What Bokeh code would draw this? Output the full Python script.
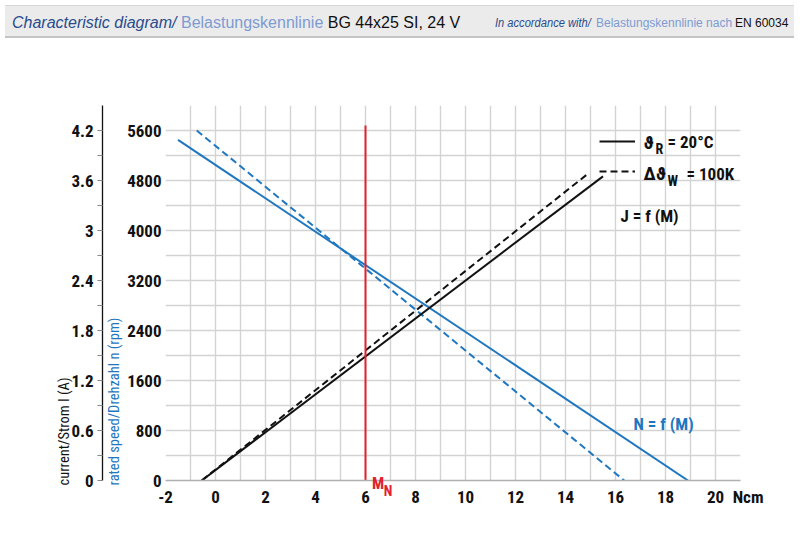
from bokeh.plotting import figure
from bokeh.models import (Range1d, LinearAxis, FixedTicker, CustomJSTickFormatter,
                          Label, Div, Legend, LegendItem, Title)
from bokeh.layouts import column
from bokeh.embed import file_html
from bokeh.resources import INLINE

# ---------------- data ----------------
torque_speed_cold = [-1.5, 18.9]      # Ncm
speed_cold = [5450, 0]                # rpm, theta_R = 20 C
torque_speed_hot = [-0.75, 16.35]
speed_hot = [5600, 0]                 # rpm, delta theta_W = 100 K
torque_current_cold = [-0.55, 15.5]
current_cold = [0, 3.65]              # A
torque_current_hot = [-0.55, 14.85]
current_hot = [0, 3.67]               # A
rated_torque = [6, 6]                 # M_N
rated_marker_span = [0, 5680]

x_ticks = [-2, 0, 2, 4, 6, 8, 10, 12, 14, 16, 18, 20, 21]
x_grid = [-2, -1, 0, 1, 2, 3, 4, 5, 6, 7, 8, 9, 10, 11, 12, 13, 14, 15, 16, 17, 18, 19, 20]
speed_ticks = [0, 800, 1600, 2400, 3200, 4000, 4800, 5600]
speed_grid = [400, 800, 1200, 1600, 2000, 2400, 2800, 3200, 3600, 4000, 4400, 4800, 5200, 5600, 6000]
current_ticks = [0, 0.6, 1.2, 1.8, 2.4, 3, 3.6, 4.2]
current_minor = [0.3, 0.9, 1.5, 2.1, 2.7, 3.3, 3.9]
mn_pos_m = [6.5]
mn_pos_n = [6.9]

# ---------------- styles ----------------
FONT = "Roboto Condensed"
BLUE = "#1f77c0"
RED = "#e3202b"
BLACK = "#111111"
GRID = "#d3d3d3"

W = 789
HEAD_H = 33
H = 530 - HEAD_H

header_html = (
    '<div style="position:relative;width:789px;height:33px;background:#ebebeb;'
    'border-top:1px solid #d6d6d6;border-bottom:2px solid #c4c4c4;box-sizing:border-box;'
    'overflow:hidden;white-space:nowrap;font-family:Liberation Sans, Arial, sans-serif;">'
    '<span style="position:absolute;left:7px;top:6px;font-size:16px;">'
    '<i style="color:#2a4b8d">Characteristic diagram/</i> '
    '<span style="color:#7d9bd2">Belastungskennlinie</span> '
    '<span style="color:#111">BG 44x25 SI, 24 V</span></span>'
    '<span style="position:absolute;left:490px;top:9px;font-size:12.5px;color:#2a4b8d;'
    'font-style:italic;transform:scaleX(0.89);transform-origin:left center;">'
    'In accordance with/</span>'
    '<span style="position:absolute;left:591px;top:9px;font-size:12.5px;color:#7d9bd2;'
    'transform:scaleX(0.96);transform-origin:left center;">'
    'Belastungskennlinie nach</span>'
    '<span style="position:absolute;left:730px;top:9px;font-size:12.5px;color:#111;'
    'transform:scaleX(0.96);transform-origin:left center;">'
    'EN 60034</span>'
    '</div>'
)
header = Div(text=header_html, width=W, height=HEAD_H)

p = figure(width=W, height=H, output_backend="svg", toolbar_location=None,
           x_range=Range1d(-2, 21), y_range=Range1d(0, 6000),
           min_border_left=165, min_border_right=49, min_border_top=62, min_border_bottom=60)
p.extra_y_ranges = {"current": Range1d(0, 4.5)}
p.outline_line_color = None
p.background_fill_color = "white"
p.border_fill_color = "white"

# grids
p.xgrid.ticker = FixedTicker(ticks=x_grid)
p.ygrid.ticker = FixedTicker(ticks=speed_grid)
for g in (p.xgrid, p.ygrid):
    g.grid_line_color = GRID
    g.grid_line_width = 1.4


def style_axis(ax, size):
    ax.major_tick_in = 0
    ax.minor_tick_in = 0
    ax.major_label_text_font = FONT
    ax.major_label_text_font_size = size
    ax.major_label_text_font_style = "bold"
    ax.major_label_text_color = BLACK


# x axis
xa = p.xaxis[0]
xa.ticker = FixedTicker(ticks=x_ticks)
xa.formatter = CustomJSTickFormatter(
    code="return tick > 20.5 ? '\u2002\u2002Ncm' : String(tick)")
xa.axis_line_color = "#b0b0b0"
xa.axis_line_width = 1.5
xa.major_tick_out = 0
xa.minor_tick_out = 0
xa.major_label_standoff = 6
style_axis(xa, "17px")

# M_N marker labels (red) on extra, tick-only axes
for pos, txt, size, so in ((mn_pos_m, "M", "16px", -36), (mn_pos_n, "N", "14px", -27)):
    ax = LinearAxis(ticker=FixedTicker(ticks=pos),
                    formatter=CustomJSTickFormatter(code="return '%s'" % txt))
    ax.axis_line_color = None
    ax.major_tick_out = 0
    ax.minor_tick_out = 0
    ax.major_label_standoff = so
    style_axis(ax, size)
    ax.major_label_text_color = RED
    p.add_layout(ax, "below")

# speed axis (inner left)
ya = p.yaxis[0]
ya.ticker = FixedTicker(ticks=speed_ticks)
ya.axis_line_color = None
ya.major_tick_out = 0
ya.minor_tick_out = 0
ya.major_label_standoff = 4
style_axis(ya, "17px")

blue_title = Title(text="rated speed/Drehzahl n (rpm)", align="left", vertical_align="bottom",
                   offset=-5, standoff=3, text_font=FONT, text_font_size="14.5px",
                   text_font_style="normal", text_color=BLUE)
p.add_layout(blue_title, "left")

# current axis (outer left)
ca = LinearAxis(y_range_name="current",
                ticker=FixedTicker(ticks=current_ticks, minor_ticks=current_minor),
                formatter=CustomJSTickFormatter(code="return String(Math.round(tick*10)/10)"))
ca.axis_line_color = BLACK
ca.axis_line_width = 1.3
ca.major_tick_out = 5
ca.minor_tick_out = 5
ca.major_tick_line_color = "#888888"
ca.minor_tick_line_color = "#888888"
ca.major_label_standoff = 4
style_axis(ca, "17px")
p.add_layout(ca, "left")

black_title = Title(text="current/Strom I (A)", align="left", vertical_align="bottom",
                    offset=-5, standoff=-8, text_font=FONT, text_font_size="14.5px",
                    text_font_style="normal", text_color=BLACK)
p.add_layout(black_title, "left")

# curves
p.line(torque_speed_cold, speed_cold, line_color=BLUE, line_width=2)
p.line(torque_speed_hot, speed_hot, line_color=BLUE, line_width=2, line_dash="7 4")
r_cold = p.line(torque_current_cold, current_cold, y_range_name="current",
                line_color=BLACK, line_width=2)
r_hot = p.line(torque_current_hot, current_hot, y_range_name="current",
               line_color=BLACK, line_width=2, line_dash="7 4")
p.line(rated_torque, rated_marker_span, line_color=RED, line_width=2)

# legend keys (labels drawn separately for subscripts)
legend = Legend(items=[LegendItem(label=" ", renderers=[r_cold]),
                       LegendItem(label=" ", renderers=[r_hot])],
                location=(434, 299), glyph_width=36, glyph_height=20, label_height=20,
                label_width=0, label_standoff=0, spacing=10, padding=0, margin=0,
                label_text_font_size="6px",
                border_line_color=None, background_fill_alpha=0)
p.add_layout(legend)


def px_to_x(px):
    return -2 + (px - 165) / 25.0


def py_to_y(py):
    return (480 - py) * 16.0


def lab(px, py, text, size, color, style="bold"):
    p.add_layout(Label(x=px_to_x(px), y=py_to_y(py), text=text, text_font=FONT,
                       text_font_size=size, text_font_style=style, text_color=color,
                       text_align="left", text_baseline="middle"))


lab(643, 141.5, "\u03d1", "19px", BLACK)
lab(655, 148, "R", "14px", BLACK)
lab(667, 141.5, "= 20\u00b0C", "17px", BLACK)
lab(643, 173, "\u0394\u03d1", "19px", BLACK)
lab(667, 180, "W", "14px", BLACK)
lab(686, 173, "= 100K", "17px", BLACK)
lab(620, 215, "J = f (M)", "17px", BLACK)
lab(633, 423, "N = f (M)", "17px", BLUE)

layout = column(header, p)
open("out.html", "w").write(file_html(layout, INLINE))
